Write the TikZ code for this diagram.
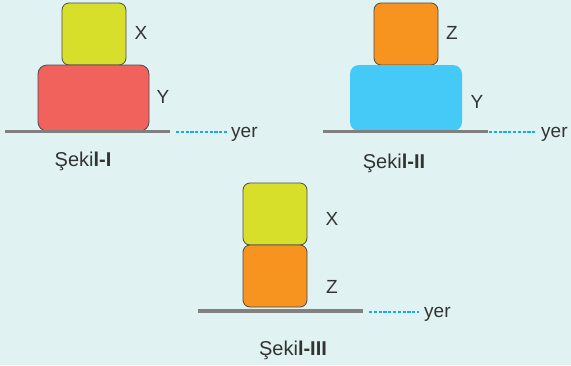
\documentclass[tikz,border=0pt]{standalone}
\usepackage{fontspec}
\setmainfont{Liberation Sans}
\begin{document}
\begin{tikzpicture}[x=1pt,y=-1pt,
  blk/.style={draw=black!70,line width=0.8pt,rounded corners=7pt},
  ground/.style={draw=black!50,line width=3.8pt},
  guide/.style={draw=cguide,line width=2pt,dash pattern=on 3.2pt off 1.6pt},
  lbl/.style={font=\fontsize{19}{19}\selectfont,text=black!80,inner sep=0pt},
  figcap/.style={font=\fontsize{20}{20}\selectfont,text=black!80,inner sep=0pt}]
\definecolor{bg}{HTML}{E0F2F2}
\definecolor{cyel}{HTML}{D7DF2B}
\definecolor{cred}{HTML}{F2625D}
\definecolor{cora}{HTML}{F7931F}
\definecolor{cblu}{HTML}{45C9F6}
\definecolor{cguide}{HTML}{1AA9EC}
\fill[bg] (0,0) rectangle (571,365);
\useasboundingbox (0,0) rectangle (571,365);
% Figure I
\draw[blk,fill=cyel] (62,3) rectangle (126,65);
\draw[blk,fill=cred,rounded corners=9pt] (38,65) rectangle (149,131);
\coordinate (g1a) at (5,131.5); \coordinate (g1b) at (170,131.5);
\draw[ground] (g1a) -- (g1b);
\node[lbl,anchor=base west] (yer1) at (231,137) {yer};
\coordinate (d1a) at (176,132); \coordinate (d1b) at (228,132);
\draw[guide] (d1a) -- (d1b);
\node[lbl] (x1) at (141,33) {X};
\node[lbl] (y1) at (163,97) {Y};
\node[figcap] (s1) at (83,161) {Şeki\textbf{l-I}};
% Figure II
\draw[blk,fill=cora] (374,3) rectangle (438,65);
\fill[cblu,rounded corners=9pt] (350,65) rectangle (462,131);
\coordinate (g2a) at (323,131.5); \coordinate (g2b) at (488,131.5);
\draw[ground] (g2a) -- (g2b);
\coordinate (d2a) at (489,132); \coordinate (d2b) at (535,132);
\draw[guide] (d2a) -- (d2b);
\node[lbl,anchor=base west] (yer2) at (541,137) {yer};
\node[lbl] (z2) at (452,33) {Z};
\node[lbl] (y2) at (477,102) {Y};
\node[figcap] (s2) at (394,163) {Şeki\textbf{l-II}};
% Figure III
\draw[blk,fill=cyel] (243,183) rectangle (307,245);
\draw[blk,fill=cora] (243,245) rectangle (307,307);
\coordinate (g3a) at (198,311); \coordinate (g3b) at (363,311);
\draw[ground] (g3a) -- (g3b);
\coordinate (d3a) at (369,311.5); \coordinate (d3b) at (419,311.5);
\draw[guide] (d3a) -- (d3b);
\node[lbl,anchor=base west] (yer3) at (424,317) {yer};
\node[lbl] (x3) at (332,219) {X};
\node[lbl] (z3) at (332,287) {Z};
\node[figcap] (s3) at (293,350) {Şeki\textbf{l-III}};
\end{tikzpicture}
\end{document}
